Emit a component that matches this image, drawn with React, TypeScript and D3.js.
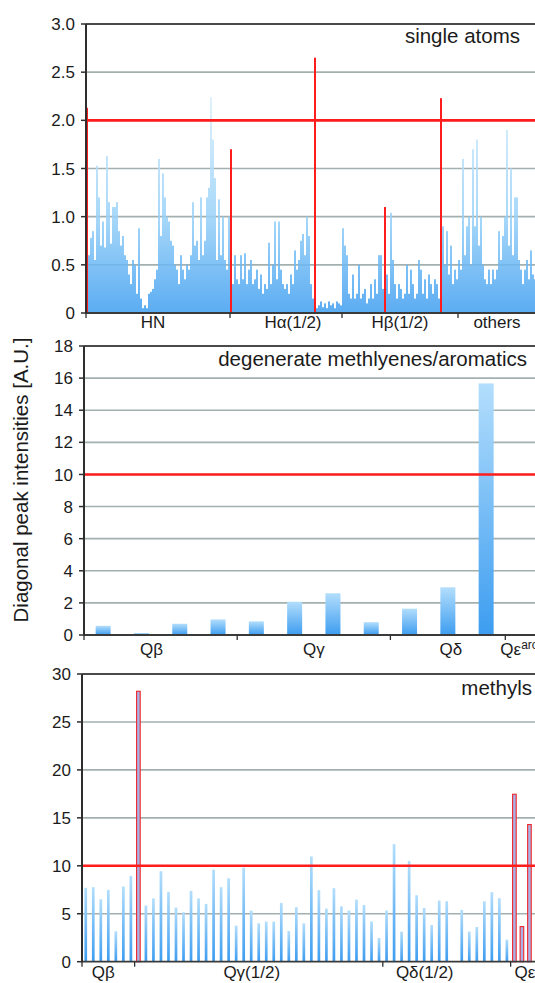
import React, { useEffect, useRef } from 'react';
import * as d3 from 'd3';

const W = 535;
const H = 983;

// top panel: single atoms, one value per atom
const singleGroups = ['HN', 'Hα(1/2)', 'Hβ(1/2)', 'others'];
const singleHN = [
  2.13, 0.6, 0.78, 0.85, 0.55, 1.53, 1.2, 0.7, 0.95, 0.68, 1.63, 1.15, 0.72, 1.1, 1.1, 1.15, 0.85, 0.7,
  0.8, 0.6, 0.55, 0.4, 0.3, 0.55, 0.5, 0.2, 0.88, 0.15, 0.05, 0.08, 0.05, 0.2, 0.22, 0.25, 0.35, 0.45,
  1.6, 0.8, 1.45, 1.2, 1.0, 0.95, 0.75, 0.7, 0.5, 0.45, 0.3, 0.6, 0.45, 0.35, 0.5, 0.45, 0.6, 1.15,
  0.7, 0.75, 0.55, 1.2, 0.6, 0.75, 1.2, 1.3, 2.24, 1.8, 1.4, 0.55, 1.18, 0.6, 1.0, 0.55, 0.45, 1.0
];
const singleHa = [
  1.7, 0.3, 0.6, 0.35, 0.3, 0.6, 0.35, 0.62, 0.3, 0.45, 0.55, 0.3, 0.35, 0.45, 0.25, 0.4, 0.2, 0.3,
  0.25, 0.73, 0.3, 0.5, 0.95, 0.35, 0.95, 0.45, 0.3, 0.25, 0.3, 0.2, 0.4, 0.3, 0.65, 0.45, 0.55, 0.75,
  0.82, 0.6, 1.0, 0.8, 0.3, 0.15, 2.65, 0.05, 0.08, 0.12, 0.06, 0.1, 0.05, 0.12, 0.08, 0.1, 0.05, 0.12,
  0.1, 0.08
];
const singleHb = [
  0.88, 0.7, 0.6, 0.2, 0.15, 0.4, 0.15, 0.2, 0.5, 0.15, 0.2, 0.25, 0.1, 0.15, 0.3, 0.15, 0.35, 0.2,
  0.6, 0.6, 0.25, 1.1, 0.4, 0.2, 1.04, 0.55, 0.3, 0.15, 0.3, 0.25, 0.15, 0.2, 0.5, 0.2, 0.45, 0.3,
  0.15, 0.2, 0.55, 0.45, 0.2, 0.35, 0.15, 0.4, 0.3, 0.2, 0.35, 0.3, 0.15, 2.23, 0.9, 0.5, 0.85, 0.4,
  0.7, 0.3, 0.45, 0.35
];
const singleOthers = [
  0.55, 0.45, 1.6, 0.6, 0.9, 1.0, 0.5, 1.7, 0.9, 1.8, 0.7, 1.0, 0.5, 0.35, 0.3, 0.45, 0.3, 0.45,
  0.35, 0.45, 0.85, 0.55, 0.8, 1.0, 1.9, 0.7, 1.5, 0.6, 1.2, 1.2, 0.55, 0.45, 0.3, 0.45, 0.55, 0.35,
  0.65, 0.4, 0.35
];
const singleFlagged = [0, 72, 114, 149, 177];
const singleTicks = [0, 0.5, 1, 1.5, 2, 2.5, 3];

// middle panel: degenerate methylenes / aromatics
const degGroups = ['Qβ', 'Qγ', 'Qδ', 'Qε'];
const degQb = [0.57, 0.12, 0.7, 0.97];
const degQg = [0.85, 2.07, 2.6, 0.8];
const degQd = [1.64, 2.97, 15.67];
const degQe = [0.05];
const degTicks = [0, 2, 4, 6, 8, 10, 12, 14, 16, 18];

// bottom panel: methyls
const methylGroups = ['Qβ', 'Qγ(1/2)', 'Qδ(1/2)', 'Qε'];
const methylQb = [7.7, 7.77, 6.5, 7.5, 3.17, 7.84, 8.95];
const methylQg = [
  28.2, 5.85, 6.6, 9.44, 7.28, 5.64, 5.16, 7.39, 6.59, 6.03, 9.6, 7.77, 8.7, 3.76, 9.8, 5.33, 4.0,
  4.18, 4.18, 6.13, 3.2, 5.68, 4.0, 10.97, 7.46, 5.54, 7.67, 5.78, 5.33, 6.48, 5.92, 4.2, 2.47
];
const methylQd = [5.33, 12.26, 3.14, 10.5, 6.93, 5.6, 3.83, 6.38, 6.3, 0, 5.4, 3.14, 3.62, 6.3, 7.25, 6.62, 2.3];
const methylQe = [17.46, 3.66, 14.3];
const methylFlagged = [7, 57, 58, 59];
const methylTicks = [0, 5, 10, 15, 20, 25, 30];

const FONT = '"Liberation Sans", Arial, sans-serif';
const TEXT = '#1b1b1b';

function drawPanel(svg, p) {
  const values = p.groups.flatMap(g => g.values);
  const n = values.length;
  const x = d3.scaleBand().domain(d3.range(n)).range([p.left, p.left + n * p.step]);
  const y = d3.scaleLinear().domain([0, p.max]).range([p.bottom, p.top]);
  const g = svg.append('g');

  // grid lines
  g.selectAll('line.grid')
    .data(p.ticks.filter(t => t > 0 && t < p.max))
    .enter().append('line')
    .attr('x1', p.left).attr('x2', W)
    .attr('y1', d => y(d)).attr('y2', d => y(d))
    .attr('stroke', '#a3b0b0').attr('stroke-width', 1.6);

  // bars
  const data = values.map((v, i) => ({ v, i, flag: p.flagged.includes(i) }));
  g.selectAll('rect.bar')
    .data(data.filter(d => !d.flag && d.v > 0))
    .enter().append('rect')
    .attr('x', d => x(d.i) + (p.step - p.barW) / 2)
    .attr('width', p.barW)
    .attr('y', d => y(d.v))
    .attr('height', d => p.bottom - y(d.v))
    .attr('fill', `url(#${p.grad})`);

  g.selectAll('rect.flag')
    .data(data.filter(d => d.flag))
    .enter().append('rect')
    .attr('x', d => x(d.i) + (p.step - p.flagW) / 2)
    .attr('width', p.flagW)
    .attr('y', d => y(d.v))
    .attr('height', d => p.bottom - y(d.v))
    .attr('fill', p.flagFill)
    .attr('stroke', p.flagStroke ? '#f0262a' : 'none')
    .attr('stroke-width', 1.1);

  // threshold
  g.append('line')
    .attr('x1', p.left).attr('x2', W)
    .attr('y1', y(p.cutoff)).attr('y2', y(p.cutoff))
    .attr('stroke', '#ff1c1c').attr('stroke-width', 2.6);

  // frame: top border, baseline, y axis
  g.append('line').attr('x1', p.left).attr('x2', W).attr('y1', p.top).attr('y2', p.top)
    .attr('stroke', '#4a4a4a').attr('stroke-width', 1.8);
  g.append('line').attr('x1', p.left).attr('x2', W).attr('y1', p.bottom).attr('y2', p.bottom)
    .attr('stroke', '#3a3a3a').attr('stroke-width', 1.8);
  g.append('line').attr('x1', p.left).attr('x2', p.left).attr('y1', p.top).attr('y2', p.bottom)
    .attr('stroke', '#2e2e2e').attr('stroke-width', 2);

  // y ticks + labels
  g.selectAll('line.yt').data(p.ticks).enter().append('line')
    .attr('x1', p.left - 5).attr('x2', p.left)
    .attr('y1', d => y(d)).attr('y2', d => y(d))
    .attr('stroke', '#2e2e2e').attr('stroke-width', 1.5);
  g.selectAll('text.yl').data(p.ticks).enter().append('text')
    .attr('x', p.left - 11).attr('y', d => y(d)).attr('dy', '0.36em')
    .attr('text-anchor', 'end')
    .style('font-family', FONT).style('font-size', '17px').attr('fill', TEXT)
    .text(p.fmt);

  // category boundaries and labels
  let start = 0;
  p.groups.forEach((grp, k) => {
    const end = start + grp.values.length;
    const bx = p.left + start * p.step;
    g.append('line').attr('x1', bx).attr('x2', bx).attr('y1', p.bottom).attr('y2', p.bottom + 5)
      .attr('stroke', '#2e2e2e').attr('stroke-width', 1.3);
    const t = g.append('text')
      .attr('x', p.left + ((start + end) / 2) * p.step + (p.labelShift[k] || 0))
      .attr('y', p.labelY)
      .attr('text-anchor', 'middle')
      .style('font-family', FONT).style('font-size', '17px').attr('fill', TEXT)
      .text(grp.name);
    if (grp.sup) {
      t.append('tspan').attr('dy', -6).style('font-size', '12px').text(grp.sup);
    }
    start = end;
  });

  // panel title
  g.append('text')
    .attr('x', p.titleX).attr('y', p.titleY)
    .attr('text-anchor', 'end')
    .style('font-family', FONT).style('font-size', '20.5px').attr('fill', TEXT)
    .text(p.title);
}

export default function App() {
  const svgRef = useRef(null);

  useEffect(() => {
    const svg = d3.select(svgRef.current);
    svg.selectAll('*').remove();

    const defs = svg.append('defs');
    const dense = defs.append('linearGradient').attr('id', 'gradDense')
      .attr('gradientUnits', 'userSpaceOnUse')
      .attr('x1', 0).attr('x2', 0).attr('y1', 95).attr('y2', 313);
    dense.append('stop').attr('offset', 0).attr('stop-color', '#dcf0fd');
    dense.append('stop').attr('offset', 0.55).attr('stop-color', '#9ad2f8');
    dense.append('stop').attr('offset', 1).attr('stop-color', '#3f9ef0');

    const bar = defs.append('linearGradient').attr('id', 'gradBar')
      .attr('x1', 0).attr('x2', 0).attr('y1', 0).attr('y2', 1);
    bar.append('stop').attr('offset', 0).attr('stop-color', '#b3defc');
    bar.append('stop').attr('offset', 1).attr('stop-color', '#3d9df0');

    drawPanel(svg, {
      groups: [
        { name: singleGroups[0], values: singleHN },
        { name: singleGroups[1], values: singleHa },
        { name: singleGroups[2], values: singleHb },
        { name: singleGroups[3], values: singleOthers }
      ],
      ticks: singleTicks, max: 3, cutoff: 2,
      fmt: d => (d === 0 ? '0' : d.toFixed(1)),
      top: 24, bottom: 313, left: 86, step: 2, barW: 1.7, flagW: 2,
      flagged: singleFlagged, flagFill: '#ff1c1c', flagStroke: false,
      grad: 'gradDense',
      labelY: 328, labelShift: [-5, 7, 0, 0],
      title: 'single atoms', titleX: 520, titleY: 43
    });

    drawPanel(svg, {
      groups: [
        { name: degGroups[0], values: degQb },
        { name: degGroups[1], values: degQg },
        { name: degGroups[2], values: degQd },
        { name: degGroups[3], values: degQe, sup: 'arom' }
      ],
      ticks: degTicks, max: 18, cutoff: 10,
      fmt: d => String(d),
      top: 346, bottom: 635, left: 84, step: 38.3, barW: 15, flagW: 15,
      flagged: [], flagFill: '#ff1c1c', flagStroke: false,
      grad: 'gradBar',
      labelY: 655, labelShift: [-9, 0, 3, 0],
      title: 'degenerate methlyenes/aromatics', titleX: 527, titleY: 366
    });

    drawPanel(svg, {
      groups: [
        { name: methylGroups[0], values: methylQb },
        { name: methylGroups[1], values: methylQg },
        { name: methylGroups[2], values: methylQd },
        { name: methylGroups[3], values: methylQe }
      ],
      ticks: methylTicks, max: 30, cutoff: 10,
      fmt: d => String(d),
      top: 674, bottom: 961.7, left: 82, step: 7.52, barW: 2.7, flagW: 3.6,
      flagged: methylFlagged, flagFill: '#a9b2e6', flagStroke: true,
      grad: 'gradBar',
      labelY: 978, labelShift: [-5, -7, -22, 3],
      title: 'methyls', titleX: 532, titleY: 695
    });

    svg.append('text')
      .attr('transform', 'translate(28,480) rotate(-90)')
      .attr('text-anchor', 'middle')
      .style('font-family', FONT).style('font-size', '20.5px').attr('fill', TEXT)
      .text('Diagonal peak intensities [A.U.]');
  }, []);

  return (
    <svg
      ref={svgRef}
      width={W}
      height={H}
      style={{ position: 'absolute', left: 0, top: 0, background: '#fff' }}
    />
  );
}
